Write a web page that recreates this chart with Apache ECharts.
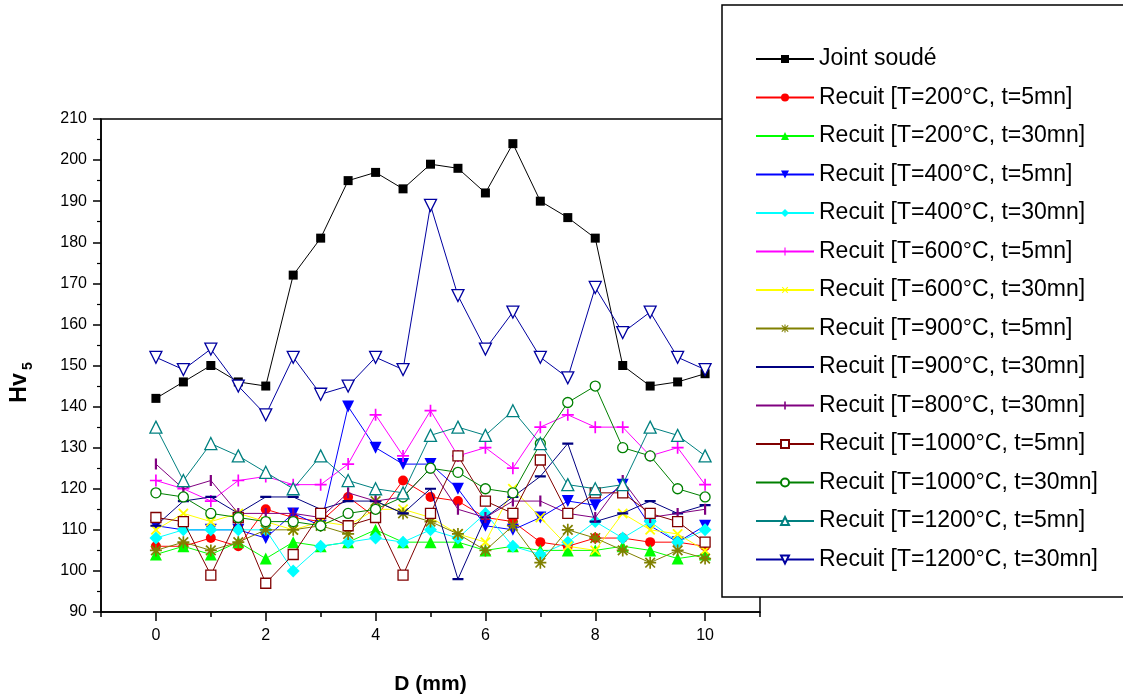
<!DOCTYPE html>
<html>
<head>
<meta charset="utf-8">
<script src="https://cdn.jsdelivr.net/npm/echarts@6/dist/echarts.min.js"></script>
<style>html,body{margin:0;padding:0;background:#fff}#c{width:1123px;height:700px}</style>
</head>
<body>
<div id="c"></div>
<script>
// ---- data ----
const xs = [0,0.5,1,1.5,2,2.5,3,3.5,4,4.5,5,5.5,6,6.5,7,7.5,8,8.5,9,9.5,10];
const xMajorTicks = [0,2,4,6,8,10];
const xMinorTicks = [-1,1,3,5,7,9,11];
const seriesNames = [
  'Joint soudé',
  'Recuit [T=200°C, t=5mn]',
  'Recuit [T=200°C, t=30mn]',
  'Recuit [T=400°C, t=5mn]',
  'Recuit [T=400°C, t=30mn]',
  'Recuit [T=600°C, t=5mn]',
  'Recuit [T=600°C, t=30mn]',
  'Recuit [T=900°C, t=5mn]',
  'Recuit [T=900°C, t=30mn]',
  'Recuit [T=800°C, t=30mn]',
  'Recuit [T=1000°C, t=5mn]',
  'Recuit [T=1000°C, t=30mn]',
  'Recuit [T=1200°C, t=5mn]',
  'Recuit [T=1200°C, t=30mn]'
];
const jointSoude = [142,146,150,146,145,172,181,195,197,193,199,198,192,204,190,186,181,150,145,146,148];
const r200_5   = [106,106,108,106,115,113,112,118,113,122,118,117,113,112,107,106,108,108,107,107,106];
const r200_30  = [104,106,104,107,103,107,106,107,110,107,107,107,105,106,105,105,105,106,105,103,104];
const r400_5   = [111,110,110,110,108,114,111,140,130,126,126,120,111,110,113,117,116,121,111,107,111];
const r400_30  = [108,110,110,110,110,100,106,107,108,107,110,108,114,106,104,107,112,108,112,107,110];
const r600_5   = [122,120,117,122,123,121,121,126,138,128,139,128,130,125,135,138,135,135,128,130,121];
const r600_30  = [110,114,112,114,112,110,112,111,115,115,113,109,107,120,113,106,105,114,110,109,105];
const r900_5   = [105,107,105,107,110,110,111,109,117,114,112,109,105,111,102,110,108,105,102,105,103];
const r900_30  = [111,117,118,114,118,118,115,117,117,114,120,98,113,118,123,131,112,114,117,114,116];
const r800_30  = [126,120,122,114,114,114,113,119,117,118,125,115,113,117,117,114,113,122,113,114,115];
const r1000_5  = [113,112,99,113,97,104,114,111,113,99,114,128,117,114,127,114,119,119,114,112,107];
const r1000_30 = [119,118,114,113,112,112,111,114,115,118,125,124,120,119,131,141,145,130,128,120,118];
const r1200_5  = [135,122,131,128,124,120,128,122,120,119,133,135,133,139,131,121,120,121,135,133,128];
const r1200_30 = [152,149,154,145,138,152,143,145,152,149,189,167,154,163,152,147,169,158,163,152,149];
const seriesValues = [jointSoude,r200_5,r200_30,r400_5,r400_30,r600_5,r600_30,r900_5,r900_30,r800_30,r1000_5,r1000_30,r1200_5,r1200_30];

// ---- styles ----
const PLUS = 'path://M4.3,0h1.4v10h-1.4z M0,4.3h10v1.4h-10z';
const STAR = 'path://M4.3,0h1.4v10h-1.4z M0,4.3h10v1.4h-10z M0.5,1.5L1.5,0.5L9.5,8.5L8.5,9.5z M8.5,0.5L9.5,1.5L1.5,9.5L0.5,8.5z';
const DASH = 'path://M0,4h10v2h-10z M5,0h0.01v0.01h-0.01z M5,10h0.01v-0.01h-0.01z';
const VBAR = 'path://M4,0h2v10h-2z M0,5h0.01v0.01h-0.01z M10,5h-0.01v0.01h0.01z';
const DTRI = 'path://M0,0L10,0L5,10Z';
const styles = [
  {c:'#000000', s:'rect', size:9, fill:true},
  {c:'#FF0000', s:'circle', size:10, fill:true},
  {c:'#00FF00', s:'triangle', size:12, fill:true},
  {c:'#0000FF', s:DTRI, size:12, fill:true},
  {c:'#00FFFF', s:'diamond', size:13, fill:true},
  {c:'#FF00FF', s:PLUS, size:12, fill:true},
  {c:'#FFFF00', s:PLUS, size:13, fill:true, rot:45},
  {c:'#808000', s:STAR, size:12, fill:true},
  {c:'#000080', s:DASH, size:11, fill:true},
  {c:'#800080', s:VBAR, size:11, fill:true},
  {c:'#800000', s:'rect', size:10, fill:false},
  {c:'#008000', s:'circle', size:10, fill:false},
  {c:'#008080', s:'triangle', size:12, fill:false},
  {c:'#0000A0', s:DTRI, size:12, fill:false}
];

const series = seriesNames.map((name, i) => {
  const st = styles[i];
  return {
    name: name,
    type: 'line',
    data: xs.map((x, j) => [x, seriesValues[i][j]]),
    symbol: st.s,
    symbolSize: st.size,
    symbolRotate: st.rot || 0,
    showAllSymbol: true,
    lineStyle: {color: st.c, width: 1},
    itemStyle: st.fill ? {color: st.c, borderWidth: 0} : {color: '#ffffff', borderColor: st.c, borderWidth: 1.3},
    emphasis: {disabled: true},
    animation: false,
    z: 2 + i * 0.01
  };
});

const tickFont = "'Liberation Sans',Arial,sans-serif";
const chart = echarts.init(document.getElementById('c'), null, {renderer: 'canvas'});
chart.setOption({
  backgroundColor: '#ffffff',
  animation: false,
  grid: {left: 101, top: 119, right: 363, bottom: 88, show: true, borderColor: '#000', borderWidth: 1.5, backgroundColor: 'transparent'},
  xAxis: [
    {
      type: 'value', min: -1, max: 11, position: 'bottom',
      axisLine: {show: true, onZero: false, lineStyle: {color: '#000', width: 1.5}},
      axisTick: {show: true, inside: false, length: 9, customValues: xMajorTicks, lineStyle: {color: '#000', width: 1.5}},
      axisLabel: {customValues: xMajorTicks, color: '#000', fontSize: 16, fontFamily: tickFont, margin: 16},
      splitLine: {show: false},
      name: 'D (mm)', nameLocation: 'middle', nameGap: 62,
      nameTextStyle: {color: '#000', fontSize: 21, fontWeight: 'bold', fontFamily: "'Liberation Sans',Arial,sans-serif"}
    },
    {
      type: 'value', min: -1, max: 11, position: 'bottom',
      axisLine: {show: false, onZero: false},
      axisTick: {show: true, inside: false, length: 5, customValues: xMinorTicks, lineStyle: {color: '#000', width: 1.5}},
      axisLabel: {show: false},
      splitLine: {show: false}
    }
  ],
  yAxis: {
    type: 'value', min: 90, max: 210, interval: 10,
    axisLine: {show: true, onZero: false, lineStyle: {color: '#000', width: 1.5}},
    axisTick: {show: true, inside: false, length: 8, lineStyle: {color: '#000', width: 1.5}},
    minorTick: {show: true, splitNumber: 2, length: 4, lineStyle: {color: '#000', width: 1.2}},
    axisLabel: {color: '#000', fontSize: 16, fontFamily: tickFont, margin: 14},
    splitLine: {show: false}
  },
  legend: {
    orient: 'vertical', left: 750, top: 41, z: 10,
    data: seriesNames,
    itemWidth: 58, itemHeight: 10, itemGap: 12.5,
    selectedMode: false,
    textStyle: {color: '#000', fontSize: 23, lineHeight: 26, fontFamily: "'Liberation Sans',Arial,sans-serif"}
  },
  graphic: [
    {type: 'rect', z: 5, shape: {x: 722, y: 5, width: 430, height: 592}, style: {fill: '#ffffff', stroke: '#000', lineWidth: 1.5}},
    {type: 'text', z: 5, x: 20, y: 388, rotation: Math.PI / 2,
      style: {text: 'Hv', fill: '#000', font: "bold 23px 'Liberation Sans',Arial,sans-serif", textAlign: 'center', textVerticalAlign: 'middle'}},
    {type: 'text', z: 5, x: 28, y: 366, rotation: Math.PI / 2,
      style: {text: '5', fill: '#000', font: "bold 14px 'Liberation Sans',Arial,sans-serif", textAlign: 'center', textVerticalAlign: 'middle'}}
  ],
  series: series
});
</script>
</body>
</html>
